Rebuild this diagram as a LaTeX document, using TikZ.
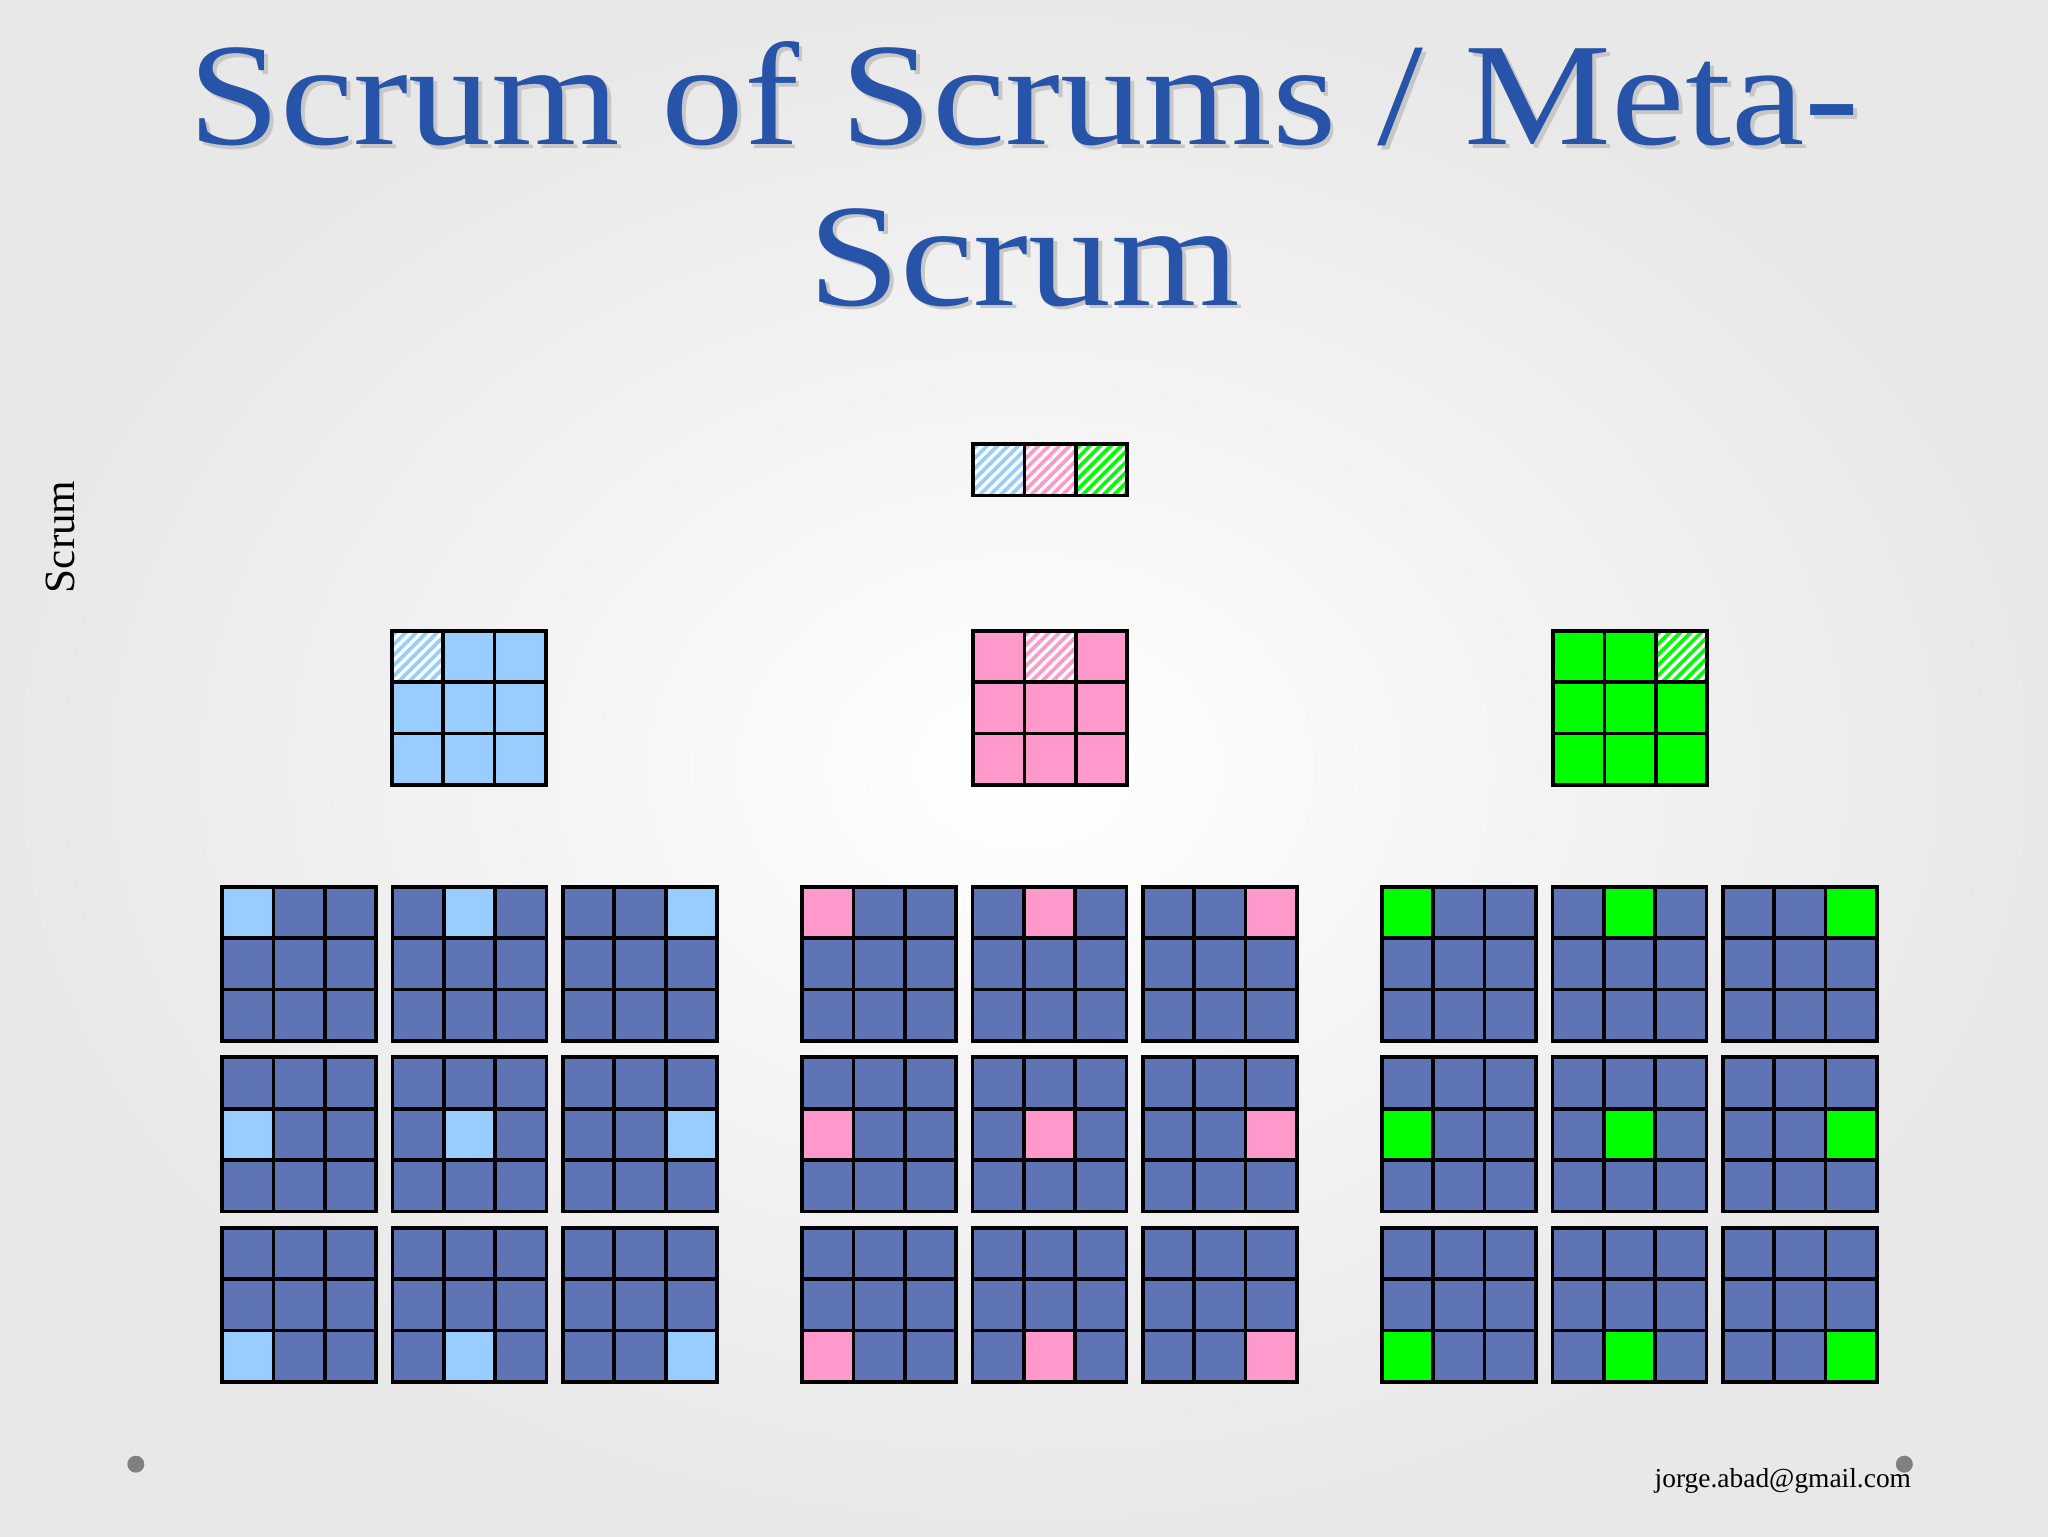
\documentclass[tikz,border=0pt]{standalone}
\usepackage{fontspec}
\setmainfont{Liberation Serif}
\definecolor{dkb}{HTML}{5E74B4}
\definecolor{lb}{HTML}{99CCFF}
\definecolor{pk}{HTML}{FF99CC}
\definecolor{gr}{HTML}{00FF00}
\definecolor{tblue}{HTML}{2754A8}
\tikzset{cellbox/.style={draw=black,line width=2.8pt}}
\newcommand{\hatchcell}[3]{%
 \begin{scope}
 \clip (#1,#2) rectangle ++(39.33,39.33);
 \fill[#3] (#1,#2) rectangle ++(39.33,39.33);
 \foreach \k in {-5,...,5}{\draw[white,line width=2.6pt] ($(#1,#2)+(\k*8-2,42)$) -- ++(44,-44);}
 \end{scope}
 \draw[cellbox] (#1,#2) rectangle ++(39.33,39.33);}
\usetikzlibrary{calc}
\begin{document}
\begin{tikzpicture}[x=1pt,y=-1pt]
\shade[inner color=white,outer color=black!9] (0,0) rectangle (1568,1176);
\useasboundingbox (0,0) rectangle (1568,1176);
% title
\node[text=black!22,font=\fontsize{112}{112}\selectfont,xscale=1.13] at (787,75) {Scrum of Scrums / Meta-};
\node[text=tblue,font=\fontsize{112}{112}\selectfont,xscale=1.13] (t1) at (784,72) {Scrum of Scrums / Meta-};
\node[text=black!22,font=\fontsize{112}{112}\selectfont,xscale=1.13] at (787,200) {Scrum};
\node[text=tblue,font=\fontsize{112}{112}\selectfont,xscale=1.13] (t2) at (784,197) {Scrum};
\node[rotate=90,font=\fontsize{33}{33}\selectfont] (side) at (46,411) {Scrum};
\node[font=\fontsize{21}{21}\selectfont] (mail) at (1365,1134) {jorge.abad@gmail.com};
\fill[black!50] (104,1121) circle (6.5);
\fill[black!50] (1458,1121) circle (6.5);
% bottom grids
\foreach \g/\col in {170/lb,614/pk,1058/gr}{
 \foreach \r in {0,1,2}{ \foreach \c in {0,1,2}{
  \pgfmathsetmacro{\bx}{\g+130.5*\c}
  \pgfmathsetmacro{\by}{679+130.5*\r}
  \foreach \i in {0,1,2}{ \foreach \j in {0,1,2}{
    \pgfmathsetmacro{\cx}{\bx+39.33*\j}
    \pgfmathsetmacro{\cy}{\by+39.33*\i}
    \def\fc{dkb}
    \ifnum\i=\r \ifnum\j=\c \def\fc{\col}\fi\fi
    \draw[cellbox,fill=\fc] (\cx,\cy) rectangle ++(39.33,39.33);
  }}
 }}
}
% middle grids
\foreach \g/\col [count=\gi from 0] in {300/lb,745/pk,1189/gr}{
 \foreach \i in {0,1,2}{ \foreach \j in {0,1,2}{
  \pgfmathsetmacro{\cx}{\g+39.33*\j}
  \pgfmathsetmacro{\cy}{483+39.33*\i}
  \draw[cellbox,fill=\col] (\cx,\cy) rectangle ++(39.33,39.33);
 }}
 \pgfmathsetmacro{\hx}{\g+39.33*\gi}
 \hatchcell{\hx}{483}{\col}
}
% top
\foreach \col [count=\j from 0] in {lb,pk,gr}{
 \pgfmathsetmacro{\cx}{745+39.33*\j}
 \hatchcell{\cx}{340}{\col}
}
\end{tikzpicture}
\end{document}
